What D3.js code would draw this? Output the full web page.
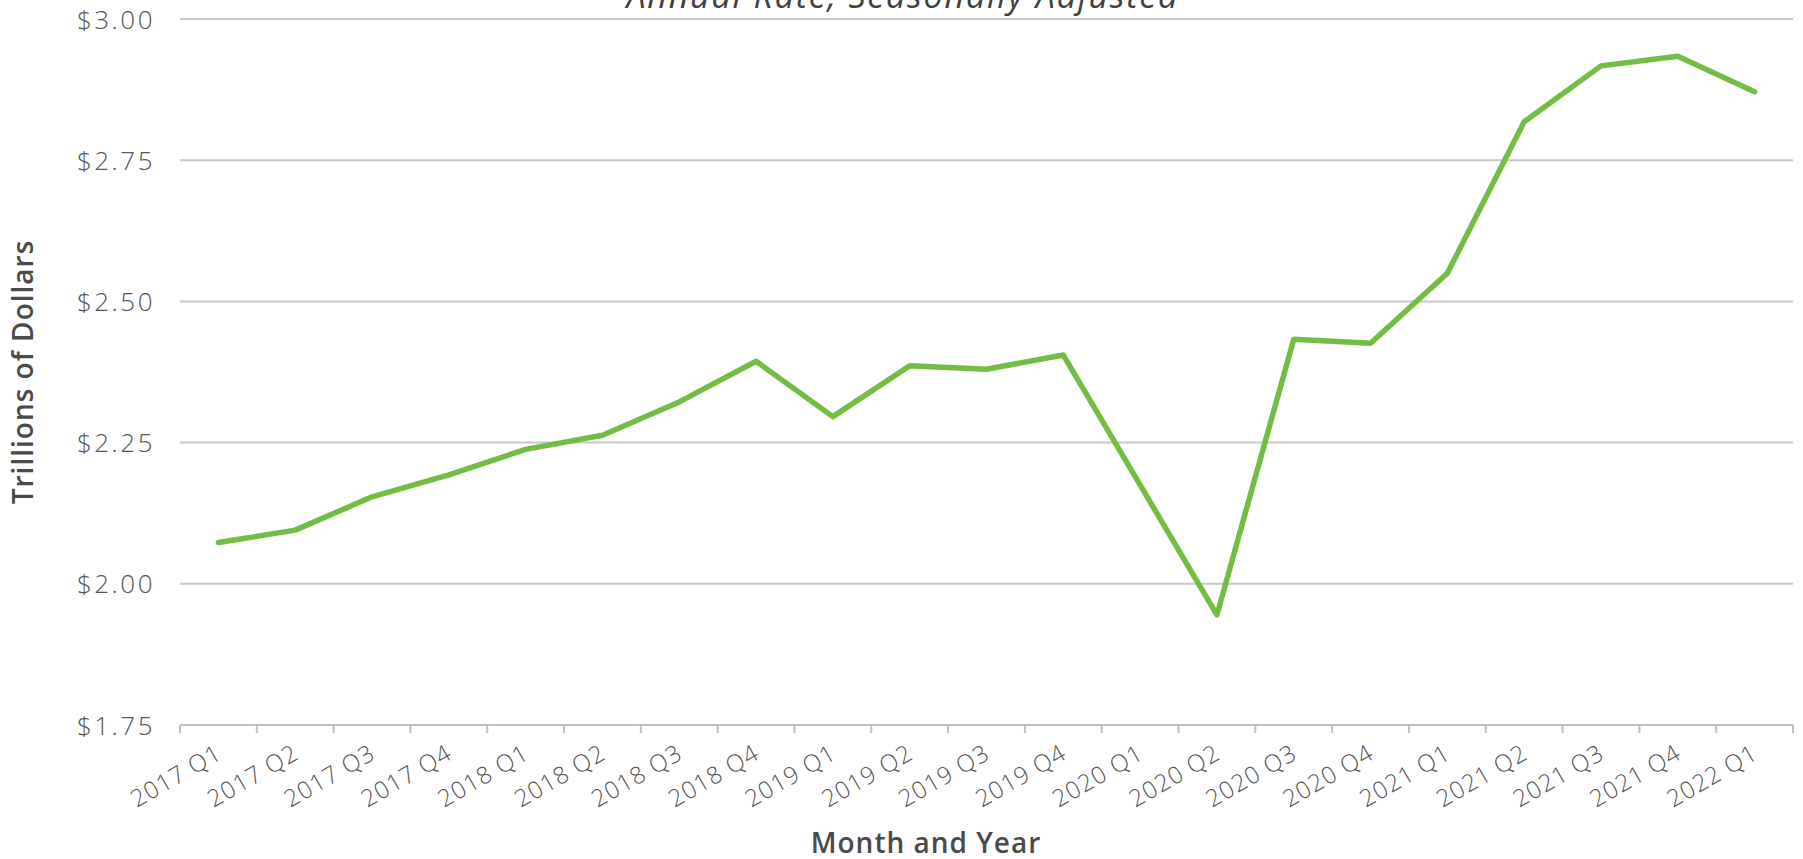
<!DOCTYPE html>
<html>
<head>
<meta charset="utf-8">
<script src="https://cdn.jsdelivr.net/npm/d3@7"></script>
<style>
  html, body { margin: 0; padding: 0; background: #fff; }
  svg { display: block; }
</style>
</head>
<body>
<svg id="chart" width="1803" height="859"></svg>
<script>
const categories = ["2017 Q1","2017 Q2","2017 Q3","2017 Q4","2018 Q1","2018 Q2","2018 Q3","2018 Q4",
  "2019 Q1","2019 Q2","2019 Q3","2019 Q4","2020 Q1","2020 Q2","2020 Q3","2020 Q4",
  "2021 Q1","2021 Q2","2021 Q3","2021 Q4","2022 Q1"];
const values = [2.073, 2.095, 2.154, 2.193, 2.238, 2.263, 2.322, 2.394,
  2.296, 2.386, 2.380, 2.405, 2.175, 1.945, 2.433, 2.426,
  2.550, 2.818, 2.917, 2.934, 2.871];
const yTicks = [1.75, 2.00, 2.25, 2.50, 2.75, 3.00];
const titleText = "Annual Rate, Seasonally Adjusted";
const xTitle = "Month and Year";
const yTitle = "Trillions of Dollars";

const svg = d3.select("#chart");
const mLeft = 180, mRight = 1793, mTop = 19, mBottom = 725;

const x = d3.scaleBand().domain(categories).range([mLeft, mRight]).padding(0);
const y = d3.scaleLinear().domain([1.75, 3.00]).range([mBottom, mTop]);

const font = "'Open Sans', sans-serif";

// title (clipped at top, as in the source)
svg.append("text")
  .attr("x", 903).attr("y", 8)
  .attr("text-anchor", "middle")
  .attr("font-family", font).attr("font-style", "italic")
  .attr("font-size", 34).attr("letter-spacing", 1.8)
  .attr("fill", "#404040")
  .text(titleText);

// gridlines
svg.append("g").selectAll("line")
  .data(yTicks.filter(d => d > 1.75))
  .join("line")
  .attr("x1", mLeft).attr("x2", mRight)
  .attr("y1", d => y(d)).attr("y2", d => y(d))
  .attr("stroke", "#c8c8c8").attr("stroke-width", 2);

// y axis labels
const yAxis = svg.append("g")
  .attr("transform", `translate(${mLeft},0)`)
  .call(d3.axisLeft(y).tickValues(yTicks).tickSize(0).tickPadding(25)
    .tickFormat(d => "$" + d3.format(".2f")(d)));
yAxis.select(".domain").remove();
yAxis.selectAll("text")
  .attr("font-family", font).attr("font-size", 26).attr("fill", "#555")
  .attr("letter-spacing", 2.5)
  .attr("font-weight", 300).attr("dy", "0.35em");

// x axis
const xAxis = svg.append("g")
  .attr("transform", `translate(0,${mBottom})`)
  .call(d3.axisBottom(x).tickSize(0).tickFormat(""));
xAxis.select(".domain").attr("stroke", "#c0c0c0").attr("stroke-width", 2)
  .attr("d", `M${mLeft},0H${mRight}`);
const boundaries = d3.range(categories.length + 1).map(i => mLeft + i * x.step());
xAxis.append("g").selectAll("line").data(boundaries).join("line")
  .attr("x1", d => d).attr("x2", d => d).attr("y1", 0).attr("y2", 8)
  .attr("stroke", "#c0c0c0").attr("stroke-width", 2);

xAxis.append("g").selectAll("text").data(categories).join("text")
  .attr("text-anchor", "end")
  .attr("transform", d => `translate(${x(d) + x.bandwidth() / 2 + 5},${33}) rotate(-30)`)
  .attr("font-family", font).attr("font-size", 24).attr("font-weight", 300)
  .attr("letter-spacing", 1)
  .attr("fill", "#555")
  .text(d => d);

// axis titles
svg.append("text")
  .attr("x", 926).attr("y", 853)
  .attr("text-anchor", "middle")
  .attr("font-family", font).attr("font-weight", 600)
  .attr("font-size", 28).attr("letter-spacing", 1).attr("fill", "#4a4a4a")
  .text(xTitle);

svg.append("text")
  .attr("transform", "translate(33,372) rotate(-90)")
  .attr("text-anchor", "middle")
  .attr("font-family", font).attr("font-weight", 600)
  .attr("font-size", 28).attr("letter-spacing", 1).attr("fill", "#4a4a4a")
  .text(yTitle);

// line
const line = d3.line()
  .x((d, i) => x(categories[i]) + x.bandwidth() / 2)
  .y(d => y(d));
svg.append("path")
  .datum(values)
  .attr("d", line)
  .attr("fill", "none")
  .attr("stroke", "#74bd44")
  .attr("stroke-width", 5.5)
  .attr("stroke-linejoin", "round")
  .attr("stroke-linecap", "round");
</script>
</body>
</html>
